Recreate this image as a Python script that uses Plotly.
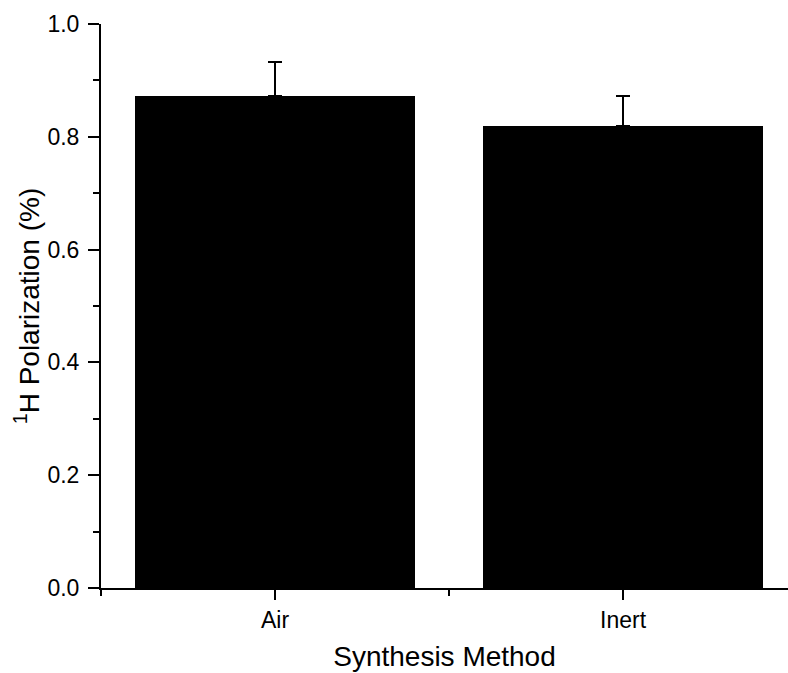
import plotly.graph_objects as go

categories = ["Air", "Inert"]
values = [0.872, 0.819]
errors_plus = [0.060, 0.054]
errors_minus = [0.0, 0.0]
y_ticks = [0.0, 0.2, 0.4, 0.6, 0.8, 1.0]
y_ticklabels = ["0.0", "0.2", "0.4", "0.6", "0.8", "1.0"]

positions = list(range(len(categories)))

font_family = "Arial, Liberation Sans, sans-serif"

fig = go.Figure()
fig.add_trace(go.Bar(
    x=positions,
    y=values,
    width=0.805,
    marker=dict(color="black", line=dict(width=0)),
    error_y=dict(type="data", symmetric=False, array=errors_plus,
                 arrayminus=errors_minus, color="black", thickness=2, width=7),
))

fig.update_layout(
    width=788, height=673,
    margin=dict(l=101, r=0, t=24, b=85),
    plot_bgcolor="white", paper_bgcolor="white",
    showlegend=False,
    font=dict(family=font_family, color="black"),
    bargap=0,
)
fig.update_xaxes(
    range=[-0.5, 1.474],
    tickvals=positions, ticktext=categories,
    ticks="outside", ticklen=10, tickwidth=2, tickcolor="black",
    showline=True, linecolor="black", linewidth=2,
    showgrid=False, zeroline=False,
    tickfont=dict(size=23, family=font_family),
    ticklabelstandoff=0,
    minor=dict(tickvals=[-0.5, 0.5], ticks="outside", ticklen=6, tickwidth=2, tickcolor="black"),
    title=dict(text="Synthesis Method", font=dict(size=28, family=font_family), standoff=15),
)
fig.update_yaxes(
    range=[0, 1.0],
    tickvals=y_ticks, ticktext=y_ticklabels,
    ticks="outside", ticklen=11, tickwidth=2, tickcolor="black",
    showline=True, linecolor="black", linewidth=2,
    showgrid=False, zeroline=False,
    tickfont=dict(size=23, family=font_family),
    ticklabelstandoff=4,
    minor=dict(dtick=0.1, tick0=0, ticks="outside", ticklen=6, tickwidth=2, tickcolor="black"),
    title=dict(text="<sup>1</sup>H Polarization (%)", font=dict(size=28, family=font_family), standoff=0),
)

fig.write_html("out.html")
